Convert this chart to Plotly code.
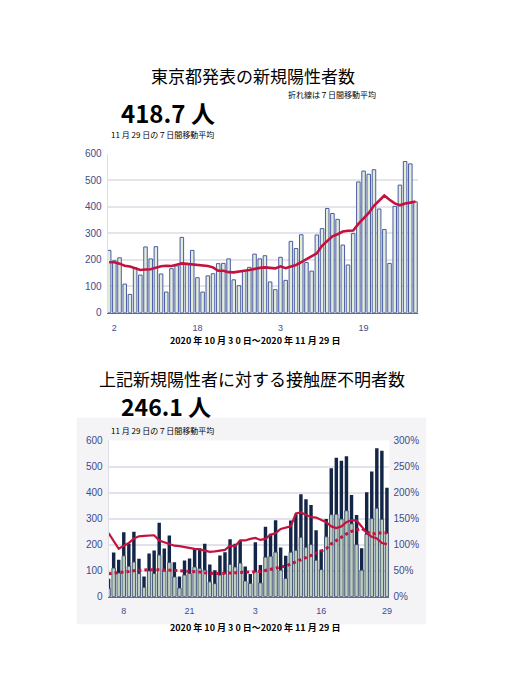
import pandas as pd
import plotly.graph_objects as go

# 東京都 新規陽性者数 (2020/10/01 - 11/29)
days = pd.date_range("2020-10-01", "2020-11-29", freq="D")
cases = [235, 196, 207, 108, 69, 170, 142, 248, 203, 249, 146, 78, 166, 177, 284, 185,
         235, 132, 78, 139, 147, 185, 186, 203, 124, 102, 158, 171, 221, 203, 215,
         116, 87, 209, 122, 269, 242, 294, 189, 157, 293, 317, 393, 374, 352, 255,
         180, 298, 493, 534, 522, 539, 391, 314, 186, 401, 481, 570, 561, 418]
cases_avg7 = [190, 190, 185, 177, 174, 168, 161, 163, 164, 170, 175, 177, 176, 181, 186, 184,
              182, 180, 180, 176, 171, 158, 158, 153, 152, 156, 158, 161, 166, 169, 171,
              169, 167, 175, 168, 174, 180, 191, 202, 212, 224, 252, 269, 288, 296, 306,
              309, 310, 335, 355, 376, 403, 422, 442, 426, 412, 405, 412, 415, 419]

# 接触歴不明者数 (2020/10/05 - 11/29)
days2 = days[4:]
cases2 = cases[4:]
unknown = [32, 110, 91, 157, 117, 133, 89, 36, 99, 89, 160, 98, 131, 76, 33, 83, 89, 114,
           108, 102, 57, 50, 83, 89, 124, 114, 129,
           60, 51, 95, 53, 152, 155, 171, 102, 70, 171, 178, 228, 190, 200, 140, 104, 230,
           315, 317, 298, 330, 280, 200, 102, 240, 300, 340, 297, 244]
unknown_avg7 = [88, 90, 92, 93, 97, 100, 102, 103, 104, 104, 104, 103, 102, 101, 100, 99, 98,
                97, 95, 92, 90, 89, 89, 89, 91, 92, 93,
                93, 93, 94, 97, 101, 106, 109, 114, 118, 125, 133, 142, 150, 158, 165, 174,
                184, 203, 216, 228, 241, 251, 256, 262, 250, 240, 244, 246, 246]
unknown_ratio = [122, 108, 92, 98, 103, 112, 116, 117, 117, 118, 108, 105, 101, 98, 97, 95, 94,
                 92, 91, 88, 86, 87, 89, 90, 98, 97, 108,
                 108, 111, 113, 109, 111, 119, 122, 130, 132, 135, 160, 162, 157, 153, 152, 148,
                 143, 135, 132, 135, 143, 147, 146, 135, 122, 115, 112, 103, 101]

top_ticks = ["2020-10-02", "2020-10-18", "2020-11-03", "2020-11-19"]
top_ticktext = ["2", "18", "3", "19"]
bot_ticks = ["2020-10-08", "2020-10-21", "2020-11-03", "2020-11-16", "2020-11-29"]
bot_ticktext = ["8", "21", "3", "16", "29"]

# page has an 8px body margin, so the figure is 8px smaller each way
OFF = 8
W, H = 507 - OFF, 700 - OFF
RED = "#c4123e"
TICK = "#414b8c"
JP = "Noto Sans CJK JP"
NARROW = "Liberation Sans Narrow, Liberation Sans, Arial"


def px(x):
    return (x - OFF) / W


def py(y):
    return 1 - (y - OFF) / H


fig = go.Figure()

fig.add_trace(go.Bar(x=days, y=cases, xaxis="x", yaxis="y",
                     marker=dict(color="#e1ecd9", line=dict(color="#4a5ba6", width=1))))
fig.add_trace(go.Scatter(x=days, y=cases_avg7, xaxis="x", yaxis="y", mode="lines",
                         line=dict(color=RED, width=2.6)))

fig.add_trace(go.Bar(x=days2, y=cases2, xaxis="x2", yaxis="y2",
                     marker=dict(color="#142647", line=dict(width=0))))
fig.add_trace(go.Bar(x=days2, y=unknown, xaxis="x2", yaxis="y2",
                     marker=dict(color="#bccfba", line=dict(color="#33426e", width=0.8))))
fig.add_trace(go.Scatter(x=days2, y=unknown_ratio, xaxis="x2", yaxis="y3", mode="lines",
                         line=dict(color=RED, width=2.2)))
fig.add_trace(go.Scatter(x=days2, y=unknown_avg7, xaxis="x2", yaxis="y2", mode="lines",
                         line=dict(color=RED, width=3, dash="dot")))

axis_font = dict(family=NARROW, size=10, color=TICK)
xfont = dict(family=NARROW, size=9, color=TICK)

fig.update_layout(
    width=W, height=H, autosize=False,
    margin=dict(l=0, r=0, t=0, b=0),
    paper_bgcolor="white", plot_bgcolor="white",
    showlegend=False, barmode="overlay", bargap=0.32,
    xaxis=dict(domain=[px(108), px(420)], anchor="y", type="date",
               range=["2020-09-30 16:48", "2020-11-29 13:12"],
               tickvals=top_ticks, ticktext=top_ticktext, tickfont=xfont,
               showgrid=False, showline=True, linecolor="#5a68a8", linewidth=1,
               ticks="", ticklabelstandoff=6),
    yaxis=dict(domain=[py(312), py(150)], anchor="x", range=[0, 600], dtick=100,
               tickfont=axis_font, gridcolor="#e4e4ea", gridwidth=1.5,
               showline=True, linecolor="#dedee6", zeroline=False, ticklabelstandoff=3),
    xaxis2=dict(domain=[px(109), px(391)], anchor="y2", type="date",
                range=["2020-10-05 00:00", "2020-11-29 12:00"],
                tickvals=bot_ticks, ticktext=bot_ticktext, tickfont=xfont,
                showgrid=False, showline=True, linecolor="#5a68a8", linewidth=1,
                ticks="", ticklabelstandoff=5),
    yaxis2=dict(domain=[py(601), py(442)], anchor="x2", range=[0, 600], dtick=100,
                tickfont=axis_font, gridcolor="#e2e2ec", gridwidth=1.5,
                showline=True, linecolor="#dedee6", zeroline=False, ticklabelstandoff=3),
    yaxis3=dict(overlaying="y2", anchor="x2", side="right", range=[0, 300], dtick=50,
                ticksuffix="%", tickfont=axis_font, showgrid=False, zeroline=False,
                ticklabelstandoff=3),
)

# gray panel behind the lower chart, white plot area on it
fig.add_shape(type="rect", xref="paper", yref="paper", layer="below",
              x0=px(77), x1=px(428), y0=py(629), y1=py(419),
              fillcolor="#f4f4f6", line=dict(width=0))
fig.add_shape(type="rect", xref="paper", yref="paper", layer="below",
              x0=px(109), x1=px(391), y0=py(601), y1=py(442),
              fillcolor="white", line=dict(width=0))

notes = [
    (254, 71, "center", "東京都発表の新規陽性者数", 17, False),
    (333, 90, "center", "折れ線は７日間移動平均", 8, False),
    (119, 108, "left", "418.7 人", 24, True),
    (109, 131, "left", "11 月 29 日の７日間移動平均", 8, False),
    (256, 340, "center", "2020 年 10 月 3 0 日〜2020 年 11 月 29 日", 9, True),
    (253, 379, "center", "上記新規陽性者に対する接触歴不明者数", 17, False),
    (119, 407, "left", "246.1 人", 23, True),
    (109, 432, "left", "11 月 29 日の７日間移動平均", 8, False),
    (256, 632, "center", "2020 年 10 月 3 0 日〜2020 年 11 月 29 日", 9, True),
]
for x, y, anchor, text, size, bold in notes:
    fig.add_annotation(x=px(x), y=py(y), xref="paper", yref="paper",
                       xanchor=anchor, yanchor="middle", showarrow=False,
                       text="<b>%s</b>" % text if bold else text,
                       font=dict(family=JP, size=size, color="black"))

fig.write_html("out.html")
